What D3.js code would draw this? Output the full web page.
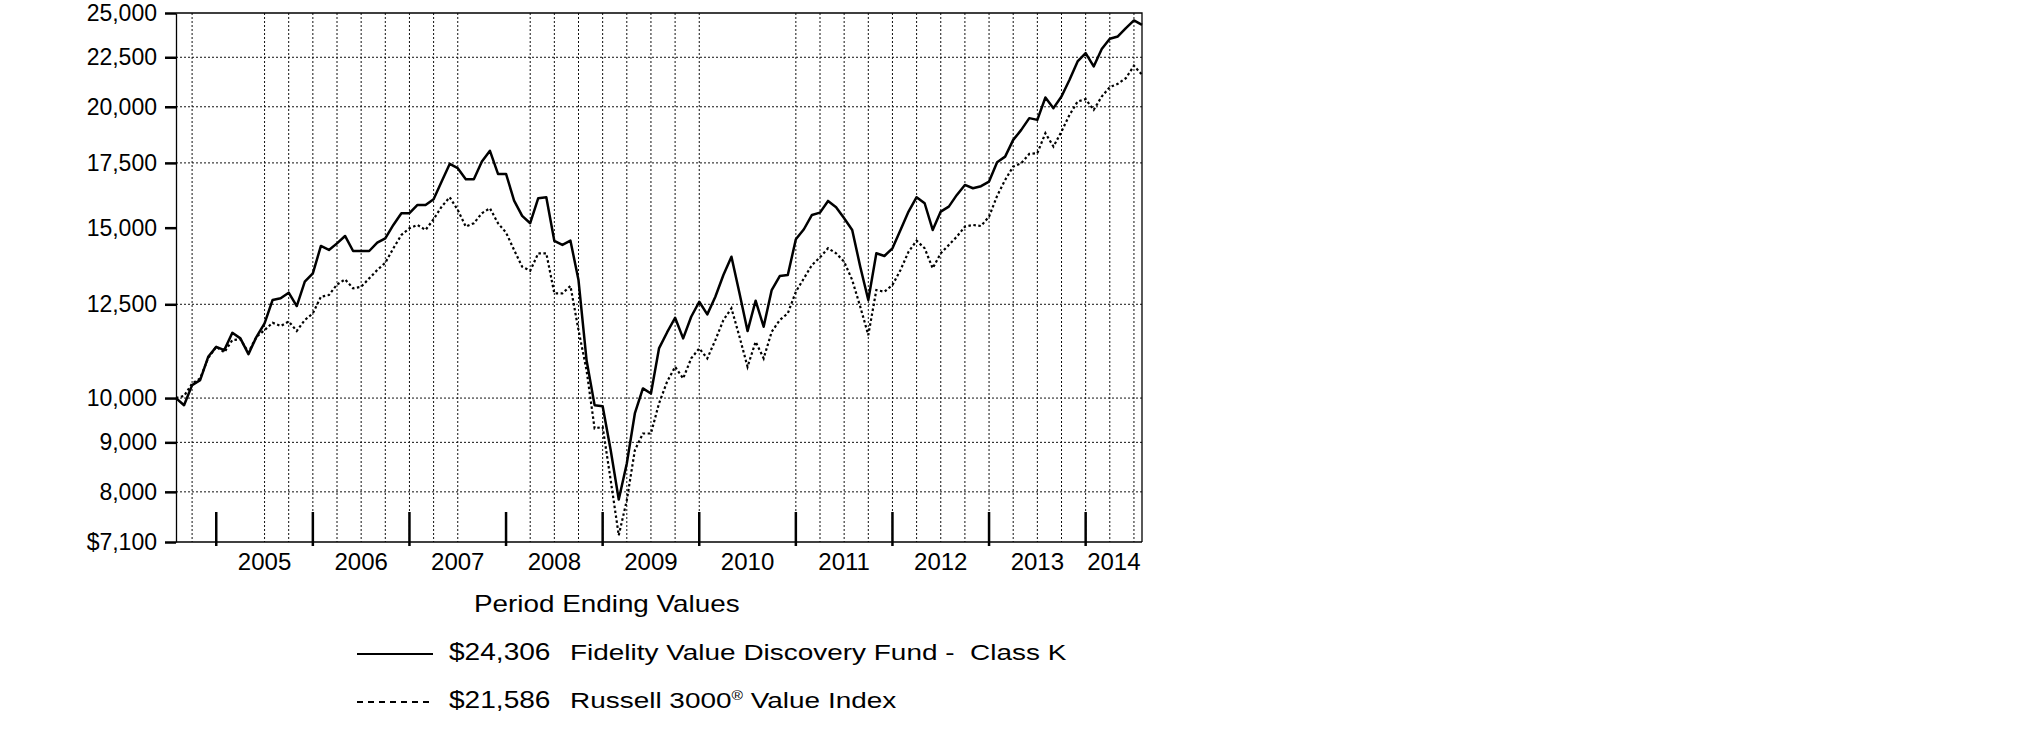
<!DOCTYPE html>
<html>
<head>
<meta charset="utf-8">
<script src="https://cdn.jsdelivr.net/npm/d3@7"></script>
<style>
body { margin: 0; background: #fff; }
text { font-family: "Liberation Sans", Arial, sans-serif; fill: #000; }
</style>
</head>
<body>
<div id="chart"></div>
<script>
// monthly values, Jul 2004 .. Jul 2014 (121 points)
var fundValues = [
  10000, 9830, 10313, 10437, 11032, 11296, 11209, 11681, 11526, 11103, 11570, 11946,
  12628, 12679, 12850, 12448, 13190, 13457, 14361, 14225, 14450, 14707, 14190, 14190,
  14190, 14473, 14626, 15097, 15525, 15525, 15833, 15833, 16050, 16738, 17458, 17281,
  16834, 16834, 17555, 18008, 17047, 17047, 15997, 15425, 15159, 16089, 16127, 14533,
  14395, 14543, 13242, 10945, 9833, 9809, 8833, 7855, 8558, 9640, 10232, 10110,
  11254, 11690, 12106, 11526, 12135, 12576, 12204, 12727, 13402, 13998, 12830, 11728,
  12607, 11850, 12932, 13370, 13402, 14591, 14944, 15462, 15548, 15986, 15748, 15340,
  14919, 13670, 12628, 14113, 14023, 14282, 14919, 15585, 16127, 15898, 14919, 15585,
  15770, 16216, 16606, 16476, 16556, 16738, 17530, 17764, 18485, 18931, 19466, 19387,
  20446, 19935, 20493, 21326, 22277, 22726, 22013, 22943, 23514, 23643, 24121, 24562,
  24306
];
var indexValues = [
  10000, 10050, 10350, 10480, 11000, 11300, 11150, 11479, 11500, 11150, 11570, 11756,
  11963, 11870, 12000, 11730, 12040, 12233, 12727, 12779, 13100, 13263, 12984, 13033,
  13295, 13562, 13800, 14282, 14742, 14979, 15097, 14919, 15304, 15770, 16127, 15646,
  15037, 15159, 15525, 15710, 15159, 14825, 14225, 13670, 13539, 14113, 14113, 12830,
  12830, 13056, 11756, 10688, 9302, 9337, 8224, 7214, 7841, 8833, 9192, 9192,
  9873, 10394, 10772, 10478, 10990, 11254, 10990, 11479, 12040, 12380, 11570, 10772,
  11432, 10990, 11709, 12040, 12233, 12879, 13295, 13725, 13978, 14282, 14113, 13833,
  13242, 12428, 11617, 12932, 12879, 13087, 13562, 14167, 14543, 14282, 13618, 14113,
  14395, 14683, 15037, 15097, 15060, 15400, 16177, 16805, 17347, 17487, 17878, 17910,
  18783, 18192, 18855, 19619, 20251, 20367, 19855, 20493, 20958, 21124, 21411, 22049,
  21586
];
var yTicks = [7100, 8000, 9000, 10000, 12500, 15000, 17500, 20000, 22500, 25000];
var yGrid = [8000, 9000, 10000, 12500, 17500, 20000, 22500];
var years = ["2005", "2006", "2007", "2008", "2009", "2010", "2011", "2012", "2013", "2014"];
var yearEnds = [5, 17, 29, 41, 53, 65, 77, 89, 101, 113]; // month index of each December
var gridMonths = [2, 11, 14, 17, 20, 23, 26, 29, 32, 35, 44, 47, 50, 53, 56, 59, 62, 65,
  77, 80, 83, 86, 89, 92, 95, 98, 101, 104, 107, 110, 113, 116, 119];
var legendValues = ["$24,306", "$21,586"];
var legendNames = ["Fidelity Value Discovery Fund -  Class K", "Russell 3000\u00AE Value Index"];

var svgWidth = 2025;
var svgHeight = 743;
var margin = { left: 176, right: 883, top: 13, bottom: 201 };
var width = svgWidth - margin.left - margin.right;
var height = svgHeight - margin.top - margin.bottom;

var svg = d3.select("#chart")
  .append("svg")
  .attr("width", svgWidth)
  .attr("height", svgHeight);

var chartGroup = svg.append("g")
  .attr("transform", `translate(${margin.left}, ${margin.top})`);

var xScale = d3.scaleLinear().domain([0, 120]).range([0, width]);
var yScale = d3.scaleLog().domain([7100, 25000]).range([height, 0]);

// grid
chartGroup.append("g").selectAll("line").data(yGrid).enter()
  .append("line")
  .attr("x1", 0).attr("x2", width)
  .attr("y1", d => yScale(d)).attr("y2", d => yScale(d))
  .attr("stroke", "#111").attr("stroke-width", 1)
  .attr("stroke-dasharray", "2,2");

chartGroup.append("g").selectAll("line").data(gridMonths).enter()
  .append("line")
  .attr("x1", d => xScale(d)).attr("x2", d => xScale(d))
  .attr("y1", 0).attr("y2", height)
  .attr("stroke", "#111").attr("stroke-width", 1)
  .attr("stroke-dasharray", "2,2");

// frame
chartGroup.append("path")
  .attr("d", `M0,0H${width}V${height}`)
  .attr("fill", "none").attr("stroke", "#000").attr("stroke-width", 1.3);

// y axis
var yAxis = d3.axisLeft(yScale)
  .tickValues(yTicks)
  .tickSize(11)
  .tickSizeOuter(0)
  .tickPadding(8)
  .tickFormat(d => d === 7100 ? "$7,100" : d3.format(",")(d));

var yAxisG = chartGroup.append("g").attr("class", "yAxis").call(yAxis);
yAxisG.select(".domain").attr("stroke-width", 1.3);
yAxisG.selectAll(".tick line").attr("stroke-width", 2.5);
yAxisG.selectAll(".tick text")
  .style("font-size", "23px")
  .style("font-family", "'Liberation Sans', Arial, sans-serif");

// x axis line
chartGroup.append("line")
  .attr("x1", 0).attr("x2", width)
  .attr("y1", height).attr("y2", height)
  .attr("stroke", "#000").attr("stroke-width", 1.3);

// year boundary ticks
chartGroup.append("g").selectAll("line").data(yearEnds).enter()
  .append("line")
  .attr("x1", d => xScale(d)).attr("x2", d => xScale(d))
  .attr("y1", height - 30).attr("y2", height + 4)
  .attr("stroke", "#000").attr("stroke-width", 2.5);

chartGroup.append("g").selectAll("text").data(years).enter()
  .append("text")
  .attr("x", (d, i) => xScale((yearEnds[i] + (i < yearEnds.length - 1 ? yearEnds[i + 1] : 120)) / 2))
  .attr("y", height + 28)
  .attr("text-anchor", "middle")
  .style("font-size", "24px")
  .text(d => d);

// lines
var line = d3.line()
  .x((d, i) => xScale(i))
  .y(d => yScale(d));

chartGroup.append("path")
  .datum(indexValues)
  .attr("d", line)
  .attr("fill", "none")
  .attr("stroke", "#000")
  .attr("stroke-width", 2.2)
  .attr("stroke-dasharray", "2.5,2.5");

chartGroup.append("path")
  .datum(fundValues)
  .attr("d", line)
  .attr("fill", "none")
  .attr("stroke", "#000")
  .attr("stroke-width", 2.5)
  .attr("stroke-linejoin", "round");

// legend
svg.append("text")
  .attr("transform", "translate(474,611.5) scale(1.16,1)")
  .style("font-size", "24px")
  .text("Period Ending Values");

var legend = svg.append("g").selectAll("g").data(legendValues).enter()
  .append("g")
  .attr("transform", (d, i) => `translate(0, ${i * 48})`);

legend.append("line")
  .attr("x1", 357).attr("x2", 433)
  .attr("y1", 654).attr("y2", 654)
  .attr("stroke", "#000")
  .attr("stroke-width", 2.2)
  .attr("stroke-dasharray", (d, i) => i === 0 ? null : "6,5");

legend.append("text")
  .attr("transform", "translate(449,659.5) scale(1.17,1)")
  .style("font-size", "24px")
  .text(d => d);

legend.append("text")
  .attr("transform", "translate(570,659.5) scale(1.30,1)")
  .style("font-size", "21.5px")
  .style("white-space", "pre")
  .each(function (d, i) {
    var name = legendNames[i];
    var parts = name.split("\u00AE");
    var t = d3.select(this);
    t.append("tspan").text(parts[0]);
    if (parts.length > 1) {
      t.append("tspan").attr("dy", -8).style("font-size", "12px").text("\u00AE");
      t.append("tspan").attr("dy", 8).text(parts[1]);
    }
  });
</script>
</body>
</html>
